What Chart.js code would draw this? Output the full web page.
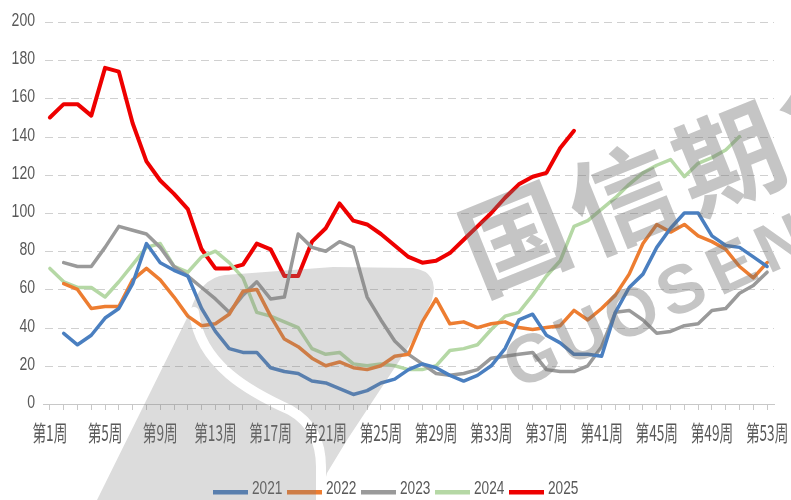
<!DOCTYPE html>
<html>
<head>
<meta charset="utf-8">
<script src="https://cdn.jsdelivr.net/npm/chart.js@4.4.1/dist/chart.umd.min.js"></script>
<style>
  html, body { margin: 0; padding: 0; background: #fff; }
  #c { display: block; }
</style>
</head>
<body>
<canvas id="c" width="791" height="500"></canvas>
<script>
// weeks 1..53
const weeks = Array.from({ length: 53 }, (_, i) => '第' + (i + 1) + '周');
const yTicks = [0, 20, 40, 60, 80, 100, 120, 140, 160, 180, 200];

const s2021 = [null, 37, 31, 36, 45, 50, 63, 84, 74, 70,
  67, 50, 38, 29, 27, 27, 19, 17, 16, 12,
  11, 8, 5, 7, 11, 13, 18, 21, 19, 15,
  12, 15, 20, 29, 44, 47, 36, 32, 26, 26,
  25, 48, 61, 68, 82, 92, 100, 100, 88, 83,
  82, 77, 72];
const s2022 = [null, 63, 60, 50, 51, 51, 65, 71, 65, 56,
  46, 41, 42, 47, 59, 60, 46, 34, 30, 24,
  20, 22, 19, 18, 20, 25, 26, 43, 55, 42,
  43, 40, 42, 43, 40, 39, 40, 41, 49, 44,
  50, 57, 68, 84, 94, 90, 94, 88, 85, 81,
  72, 66, 74];
const s2023 = [null, 74, 72, 72, 82, 93, 91, 89, 82, 72,
  67, 61, 55, 48, 57, 64, 55, 56, 89, 82,
  80, 85, 82, 56, 44, 33, 26, 21, 16, 15,
  16, 18, 24, 25, 26, 27, 18, 17, 17, 20,
  30, 48, 49, 44, 37, 38, 41, 42, 49, 50,
  58, 62, 69];
const s2024 = [71, 64, 61, 61, 56, 64, 73, 82, 84, 72,
  69, 77, 80, 74, 66, 48, 46, 43, 40, 29,
  26, 27, 21, 20, 21, 20, 18, 18, 20, 28,
  29, 31, 39, 46, 48, 57, 67, 75, 93, 96,
  102, 108, 115, 121, 125, 128, 119, 126, 129, 133,
  140];
const s2025 = [150, 157, 157, 151, 176, 174, 147, 127, 117, 110,
  102, 81, 71, 71, 73, 84, 81, 67, 67, 85,
  92, 105, 96, 94, 89, 83, 77, 74, 75, 79,
  86, 93, 100, 108, 115, 119, 121, 134, 143];

const seriesNames = ['2021', '2022', '2023', '2024', '2025'];
const seriesData = [s2021, s2022, s2023, s2024, s2025];
const seriesColors = ['#4a7fc0', '#ed7d31', '#9a9a9a', '#b5d8a5', '#ee0000'];
const seriesWidths = [3.5, 3.5, 3.5, 3.5, 4];

const textColor = '#595959';

// the original text is squeezed sideways, so labels are drawn with a scaleX
function squeezed(ctx, text, x, y, sx) {
  ctx.save();
  ctx.translate(x, y);
  ctx.scale(sx, 1);
  ctx.fillText(text, 0, 0);
  ctx.restore();
}

const labelsPlugin = {
  id: 'squeezedLabels',
  beforeDatasetsDraw(chart) {
    const { ctx, chartArea, scales: { x, y } } = chart;
    ctx.save();

    // dashed horizontal grid
    ctx.strokeStyle = '#d0d0d0';
    ctx.lineWidth = 1;
    ctx.setLineDash([8, 5]);
    yTicks.forEach(v => {
      if (v === 0) return;
      const py = Math.round(y.getPixelForValue(v)) + 0.5;
      ctx.beginPath();
      ctx.moveTo(chartArea.left + 2, py);
      ctx.lineTo(chartArea.right, py);
      ctx.stroke();
    });
    ctx.setLineDash([]);

    ctx.fillStyle = textColor;
    ctx.textBaseline = 'middle';

    // x categories, every 4th week
    ctx.font = '22px "Noto Sans CJK SC"';
    ctx.textAlign = 'center';
    weeks.forEach((w, i) => {
      if (i % 4 === 0) squeezed(ctx, w, x.getPixelForValue(i), 433, 0.62);
    });

    // y values
    ctx.font = '18px "Liberation Sans"';
    ctx.textAlign = 'right';
    yTicks.forEach(v => squeezed(ctx, String(v), 35, y.getPixelForValue(v) - 1, 0.78));

    // legend: short thick line + year
    ctx.font = '19px "Liberation Sans"';
    ctx.textAlign = 'left';
    const stride = 74, lineLen = 35, gap = 4;
    const total = stride * seriesNames.length - gap;
    let lx = Math.round(chart.width / 2 - total / 2);
    seriesNames.forEach((name, i) => {
      ctx.fillStyle = seriesColors[i];
      ctx.fillRect(lx, 490, lineLen, 4.5);
      ctx.fillStyle = textColor;
      squeezed(ctx, name, lx + lineLen + gap, 489, 0.72);
      lx += stride;
    });
    ctx.restore();
  }
};

// faint company watermark over the plot
const watermarkPlugin = {
  id: 'watermark',
  afterDatasetsDraw(chart) {
    const { ctx, width, height } = chart;
    const off = document.createElement('canvas');
    off.width = width;
    off.height = height;
    const o = off.getContext('2d');
    o.fillStyle = '#808080';
    o.beginPath();
    o.moveTo(97, 500);
    o.lineTo(190, 312);
    o.quadraticCurveTo(200, 278, 225, 275);
    o.lineTo(333, 267);
    o.lineTo(413, 268);
    o.quadraticCurveTo(440, 272, 432, 300);
    o.lineTo(413, 340);
    o.lineTo(380, 390);
    o.lineTo(347, 440);
    o.lineTo(327, 473);
    o.lineTo(320, 500);
    o.closePath();
    o.fill();
    o.globalCompositeOperation = 'destination-out';
    o.lineWidth = 10;
    o.lineCap = 'round';
    o.beginPath();
    o.moveTo(194, 312);
    o.bezierCurveTo(200, 365, 250, 392, 290, 410);
    o.quadraticCurveTo(322, 428, 321, 470);
    o.lineTo(321, 505);
    o.stroke();

    ctx.save();
    ctx.globalAlpha = 0.28;
    ctx.drawImage(off, 0, 0);
    ctx.restore();

    ctx.save();
    ctx.fillStyle = 'rgba(110,110,110,0.4)';
    ctx.textAlign = 'center';
    ctx.textBaseline = 'middle';
    ctx.font = 'bold 106px "Noto Sans CJK SC"';
    ['国', '信', '期', '货'].forEach((ch, k) => {
      ctx.save();
      ctx.translate(515 + k * 107, 238 - k * 40);
      ctx.rotate(-22 * Math.PI / 180);
      ctx.fillText(ch, 0, 0);
      ctx.restore();
    });
    ctx.font = 'bold 68px "Liberation Sans"';
    ['G', 'U', 'O', 'S', 'E', 'N'].forEach((ch, k) => {
      ctx.save();
      ctx.translate(533 + k * 50, 362 - k * 23);
      ctx.rotate(-25 * Math.PI / 180);
      ctx.fillText(ch, 0, 0);
      ctx.restore();
    });
    ctx.restore();
  }
};

new Chart(document.getElementById('c'), {
  type: 'line',
  data: {
    labels: weeks,
    datasets: seriesNames.map((name, i) => ({
      label: name,
      data: seriesData[i],
      borderColor: seriesColors[i],
      backgroundColor: seriesColors[i],
      borderWidth: seriesWidths[i],
      pointRadius: 0,
      tension: 0,
      borderJoinStyle: 'round',
      borderCapStyle: 'round',
      spanGaps: false
    }))
  },
  options: {
    responsive: false,
    animation: false,
    devicePixelRatio: 1,
    layout: { padding: { left: 0, right: 17, top: 22, bottom: 26 } },
    scales: {
      x: {
        offset: true,
        grid: {
          display: true,
          drawOnChartArea: false,
          drawTicks: true,
          tickLength: 6,
          tickColor: '#c8c8c8',
          offset: false
        },
        border: { display: true, color: '#c8c8c8', width: 1 },
        ticks: { autoSkip: false, maxRotation: 0, callback: () => '' },
        afterFit: s => { s.height = 70; }
      },
      y: {
        min: 0,
        max: 200,
        afterBuildTicks: s => { s.ticks = yTicks.map(v => ({ value: v })); },
        grid: { display: false },
        border: { display: false },
        ticks: { callback: () => '' },
        afterFit: s => { s.width = 43; }
      }
    },
    plugins: {
      legend: { display: false },
      tooltip: { enabled: false }
    }
  },
  plugins: [labelsPlugin, watermarkPlugin]
});
</script>
</body>
</html>
